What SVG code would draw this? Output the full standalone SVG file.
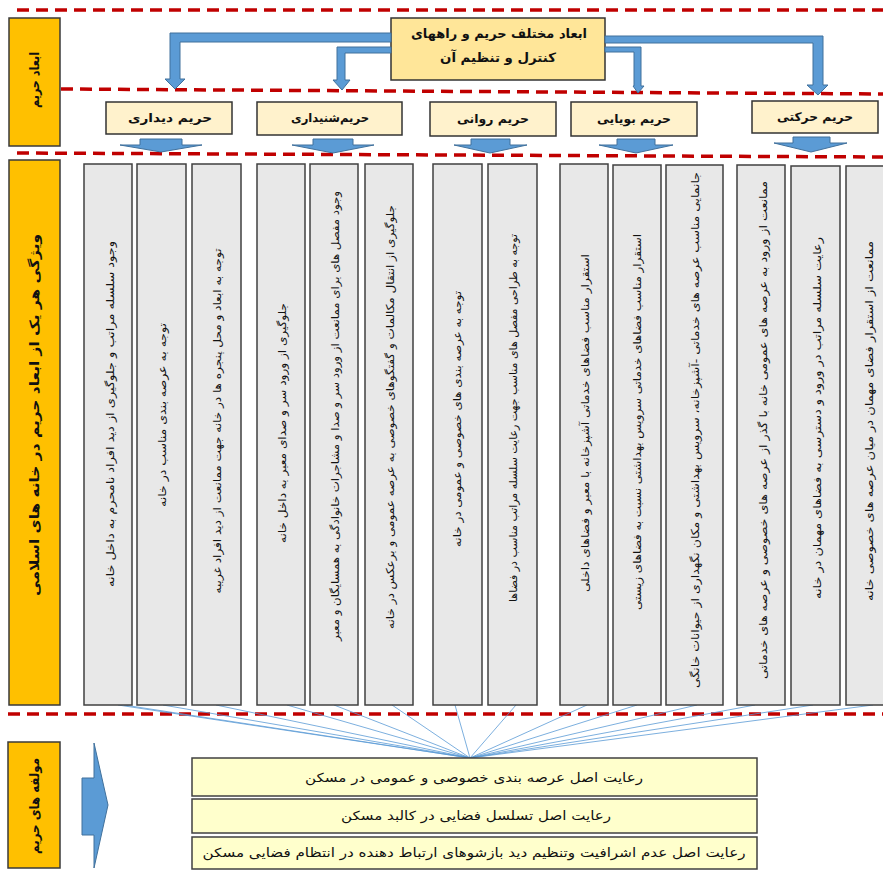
<svg xmlns="http://www.w3.org/2000/svg" width="883" height="875" viewBox="0 0 883 875">
<style>
.dash{stroke:#C00000;stroke-width:3.5;stroke-dasharray:12 7;fill:none}
.ybox{fill:#FFC000;stroke:#3a3a3a;stroke-width:1.5}
.col{fill:#E8E8E8;stroke:#404040;stroke-width:1.5}
.hdr{fill:#FFF2CC;stroke:#333;stroke-width:1.5}
.top{fill:#FFE699;stroke:#333;stroke-width:1.5}
.bot{fill:#FFFFCC;stroke:#404040;stroke-width:1.5}
.arr{fill:#5B9BD5;stroke:#41719C;stroke-width:1}
.fan{stroke:#5B9BD5;stroke-width:0.8;fill:none}
text{font-family:"DejaVu Sans",sans-serif;direction:rtl;fill:#111}
.b{font-weight:bold}
.ct{font-size:11px}
</style>
<rect width="883" height="875" fill="#fff"/>
<g id="dividers">
<line class="dash" x1="17" y1="10" x2="883" y2="10"/>
<line class="dash" x1="61" y1="89" x2="883" y2="94"/>
<line class="dash" x1="17" y1="153" x2="883" y2="157"/>
<line class="dash" x1="8" y1="714" x2="883" y2="714"/>
</g>
<g id="label-abad">
<rect class="ybox" x="9" y="18" width="51" height="128"/>
<text class="b" font-size="13" text-anchor="middle" transform="translate(34,80) rotate(-90)" y="4.5" textLength="56" lengthAdjust="spacingAndGlyphs">ابعاد حریم</text>
</g>
<g id="label-vizhegi">
<rect class="ybox" x="9" y="160" width="51" height="545"/>
<text class="b" font-size="13" text-anchor="middle" transform="translate(34,415) rotate(-90)" y="4.5" textLength="362" lengthAdjust="spacingAndGlyphs">ویژگی هر یک از ابعاد حریم در خانه های اسلامی</text>
</g>
<g id="label-moalefe">
<rect class="ybox" x="8" y="742" width="52" height="126"/>
<text class="b" font-size="13" text-anchor="middle" transform="translate(34,806) rotate(-90)" y="4.5" textLength="96" lengthAdjust="spacingAndGlyphs">مولفه های حریم</text>
</g>
<g id="main">
<rect class="top" x="391" y="18" width="214" height="62"/>
<text class="b" font-size="13" text-anchor="middle" x="499" y="38" textLength="176" lengthAdjust="spacingAndGlyphs">ابعاد مختلف حریم و راههای</text>
<text class="b" font-size="13" text-anchor="middle" x="498" y="62" textLength="116" lengthAdjust="spacingAndGlyphs">کنترل و تنظیم آن</text>
</g>
<g id="connectors">
<polygon class="arr" points="391,33 170,33 170,79 165,79 175,89 185,79 180,79 180,42 391,42"/>
<polygon class="arr" points="391,47 337,47 337,80 333,80 342,90 350,80 345,80 345,53 391,53"/>
<polygon class="arr" points="605,47 641,47 641,86 644,86 638,93 633,86 634,86 634,52 605,52"/>
<polygon class="arr" points="605,36 823,36 823,85 828,85 818,95 807,85 813,85 813,43 605,43"/>
<polygon class="arr" points="140,139 182,139 182,145 202,145 161,152 120,145 140,145"/>
<polygon class="arr" points="313,139 353,139 353,145 374,145 333,153 292,145 313,145"/>
<polygon class="arr" points="471,139 510,139 510,145 527,145 490,153 454,145 471,145"/>
<polygon class="arr" points="617,139 655,139 655,145 673,145 636,153 599,145 617,145"/>
<polygon class="arr" points="793,137 830,137 830,143 847,143 811,152 774,143 793,143"/>
<polygon class="arr" points="82,778 94,778 94,743 108,805 94,868 94,835 82,835"/>
<g id="fan">
<line class="fan" x1="118" y1="705" x2="470" y2="758"/>
<line class="fan" x1="124" y1="705" x2="470" y2="758"/>
<line class="fan" x1="163" y1="705" x2="470" y2="758"/>
<line class="fan" x1="216" y1="705" x2="470" y2="758"/>
<line class="fan" x1="287" y1="705" x2="470" y2="758"/>
<line class="fan" x1="334" y1="705" x2="470" y2="758"/>
<line class="fan" x1="392" y1="705" x2="470" y2="758"/>
<line class="fan" x1="455" y1="705" x2="470" y2="758"/>
<line class="fan" x1="516" y1="705" x2="470" y2="758"/>
<line class="fan" x1="587" y1="705" x2="470" y2="758"/>
<line class="fan" x1="637" y1="705" x2="470" y2="758"/>
<line class="fan" x1="697" y1="705" x2="470" y2="758"/>
<line class="fan" x1="755" y1="705" x2="470" y2="758"/>
<line class="fan" x1="813" y1="705" x2="470" y2="758"/>
<line class="fan" x1="873" y1="705" x2="470" y2="758"/>
</g>
</g>
<g id="h-didari"><rect class="hdr" x="106" y="102" width="126" height="32"/><text class="b" font-size="12" text-anchor="middle" x="170" y="122" textLength="84" lengthAdjust="spacingAndGlyphs">حریم دیداری</text></g>
<g id="h-shenidari"><rect class="hdr" x="257" y="102" width="145" height="33"/><text class="b" font-size="12" text-anchor="middle" x="330" y="122" textLength="78" lengthAdjust="spacingAndGlyphs">حریم&#8204;شنیداری</text></g>
<g id="h-ravani"><rect class="hdr" x="430" y="102" width="126" height="34"/><text class="b" font-size="12" text-anchor="middle" x="493" y="123" textLength="72" lengthAdjust="spacingAndGlyphs">حریم روانی</text></g>
<g id="h-buyayi"><rect class="hdr" x="571" y="102" width="126" height="34"/><text class="b" font-size="12" text-anchor="middle" x="634" y="123" textLength="74" lengthAdjust="spacingAndGlyphs">حریم بویایی</text></g>
<g id="h-harekati"><rect class="hdr" x="752" y="101" width="126" height="32"/><text class="b" font-size="12" text-anchor="middle" x="815" y="121" textLength="76" lengthAdjust="spacingAndGlyphs">حریم حرکتی</text></g>
<g id="c1"><rect class="col" x="84" y="164" width="48" height="541"/><text class="ct" text-anchor="middle" transform="translate(110,414) rotate(-90)" y="4" textLength="346" lengthAdjust="spacingAndGlyphs">وجود سلسله مراتب و جلوگیری از دید افراد نامحرم به داخل خانه</text></g>
<g id="c2"><rect class="col" x="137" y="164" width="49" height="541"/><text class="ct" text-anchor="middle" transform="translate(162,415) rotate(-90)" y="4" textLength="184" lengthAdjust="spacingAndGlyphs">توجه به عرصه بندی مناسب در خانه</text></g>
<g id="c3"><rect class="col" x="192" y="164" width="49" height="541"/><text class="ct" text-anchor="middle" transform="translate(217,421) rotate(-90)" y="4" textLength="345" lengthAdjust="spacingAndGlyphs">توجه به ابعاد و محل پنجره ها در خانه جهت ممانعت از دید افراد غریبه</text></g>
<g id="c4"><rect class="col" x="257" y="164" width="48" height="541"/><text class="ct" text-anchor="middle" transform="translate(282,423) rotate(-90)" y="4" textLength="240" lengthAdjust="spacingAndGlyphs">جلوگیری از ورود سر و صدای معبر به داخل خانه</text></g>
<g id="c5"><rect class="col" x="310" y="164" width="48" height="541"/><text class="ct" text-anchor="middle" transform="translate(335,416) rotate(-90)" y="4" textLength="450" lengthAdjust="spacingAndGlyphs">وجود مفصل های برای ممانعت از ورود سر و صدا و مشاجرات خانوادگی به همسایگان و معبر</text></g>
<g id="c6"><rect class="col" x="365" y="164" width="48" height="541"/><text class="ct" text-anchor="middle" transform="translate(390,417) rotate(-90)" y="4" textLength="424" lengthAdjust="spacingAndGlyphs">جلوگیری از انتقال مکالمات و گفتگوهای خصوصی به عرصه عمومی و برعکس در خانه</text></g>
<g id="c7"><rect class="col" x="433" y="164" width="49" height="541"/><text class="ct" text-anchor="middle" transform="translate(457,419) rotate(-90)" y="4" textLength="256" lengthAdjust="spacingAndGlyphs">توجه به عرصه بندی های خصوصی و عمومی در خانه</text></g>
<g id="c8"><rect class="col" x="488" y="164" width="49" height="541"/><text class="ct" text-anchor="middle" transform="translate(513,418) rotate(-90)" y="4" textLength="368" lengthAdjust="spacingAndGlyphs">توجه به طراحی مفصل های مناسب جهت رعایت سلسله مراتب مناسب در فضاها</text></g>
<g id="c9"><rect class="col" x="560" y="164" width="48" height="541"/><text class="ct" text-anchor="middle" transform="translate(585,423) rotate(-90)" y="4" textLength="338" lengthAdjust="spacingAndGlyphs">استقرار مناسب فضاهای خدماتی آشپزخانه با معبر و فضاهای داخلی</text></g>
<g id="c10"><rect class="col" x="613" y="165" width="48" height="540"/><text class="ct" text-anchor="middle" transform="translate(637,422) rotate(-90)" y="4" textLength="376" lengthAdjust="spacingAndGlyphs">استقرار مناسب فضاهای خدماتی سرویس بهداشتی نسبت به فضاهای زیستی</text></g>
<g id="c11"><rect class="col" x="666" y="165" width="57" height="540"/><text class="ct" text-anchor="middle" transform="translate(695,430) rotate(-90)" y="4" textLength="516" lengthAdjust="spacingAndGlyphs">جانمایی مناسب عرصه های خدماتی -آشپزخانه، سرویس بهداشتی و مکان نگهداری از حیوانات خانگی</text></g>
<g id="c12"><rect class="col" x="737" y="165" width="48" height="540"/><text class="ct" text-anchor="middle" transform="translate(763,430) rotate(-90)" y="4" textLength="498" lengthAdjust="spacingAndGlyphs">ممانعت از ورود به عرصه های عمومی خانه با گذر از عرصه های خصوصی و عرصه های خدماتی</text></g>
<g id="c13"><rect class="col" x="791" y="166" width="49" height="539"/><text class="ct" text-anchor="middle" transform="translate(817,418) rotate(-90)" y="4" textLength="362" lengthAdjust="spacingAndGlyphs">رعایت سلسله مراتب در ورود و دسترسی به فضاهای مهمان در خانه</text></g>
<g id="c14"><rect class="col" x="846" y="166" width="48" height="539"/><text class="ct" text-anchor="middle" transform="translate(869,421) rotate(-90)" y="4" textLength="360" lengthAdjust="spacingAndGlyphs">ممانعت از استقرار فضای مهمان در میان عرصه های خصوصی خانه</text></g>
<g id="p1"><rect class="bot" x="192" y="758" width="565" height="38"/><text font-size="12.5" text-anchor="middle" x="474" y="782" textLength="338" lengthAdjust="spacingAndGlyphs">رعایت اصل عرصه بندی خصوصی و عمومی در مسکن</text></g>
<g id="p2"><rect class="bot" x="192" y="799" width="565" height="34"/><text font-size="12.5" text-anchor="middle" x="476" y="820" textLength="270" lengthAdjust="spacingAndGlyphs">رعایت اصل تسلسل فضایی در کالبد مسکن</text></g>
<g id="p3"><rect class="bot" x="192" y="837" width="565" height="32"/><text font-size="12.5" text-anchor="middle" x="474" y="857" textLength="543" lengthAdjust="spacingAndGlyphs">رعایت اصل عدم اشرافیت وتنظیم دید بازشوهای ارتباط دهنده در انتظام فضایی مسکن</text></g>
</svg>
